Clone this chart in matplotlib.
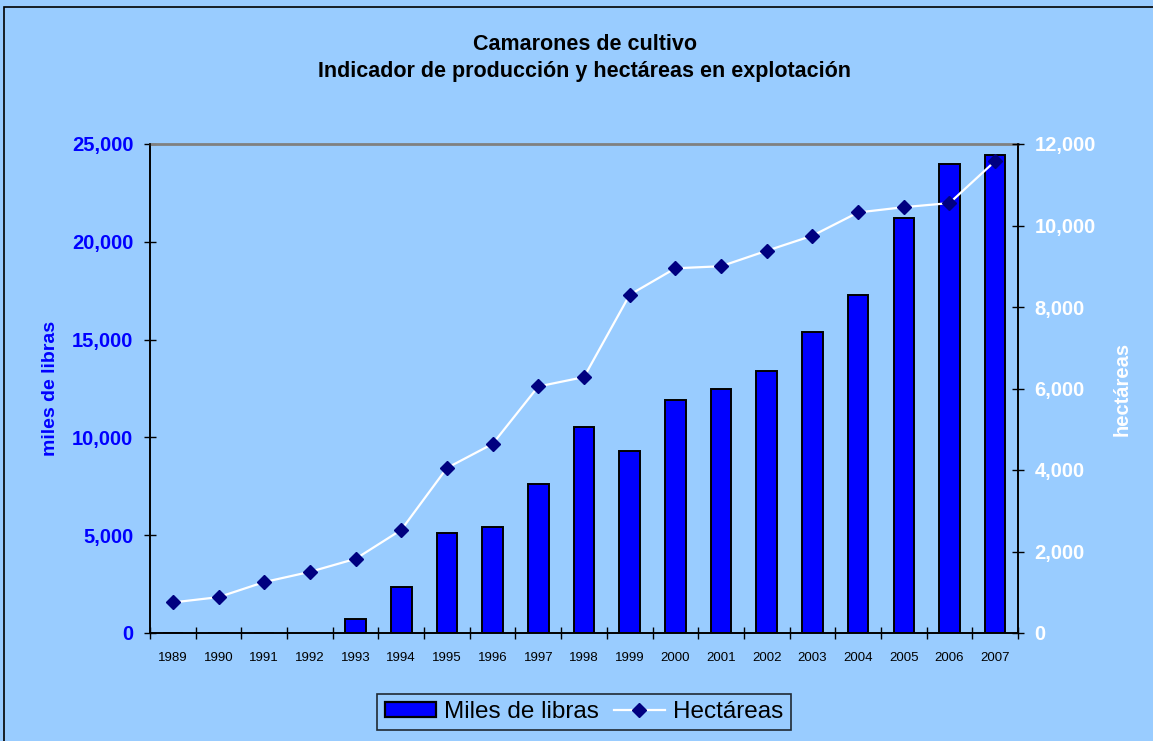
import matplotlib
matplotlib.use("Agg")
import matplotlib.pyplot as plt
from matplotlib.patches import Rectangle, Patch
from matplotlib.lines import Line2D
from matplotlib.ticker import FuncFormatter, MultipleLocator
import numpy as np

plt.rcParams['font.family'] = ['Liberation Sans', 'DejaVu Sans']

years = [1989, 1990, 1991, 1992, 1993, 1994, 1995, 1996, 1997, 1998,
         1999, 2000, 2001, 2002, 2003, 2004, 2005, 2006, 2007]
# miles de libras (bars, left axis)
libras = [0, 0, 0, 0, 700, 2350, 5100, 5400, 7600, 10550,
          9300, 11900, 12500, 13400, 15400, 17300, 21200, 24000, 24450]
# hectareas en explotacion (line, right axis)
hectareas = [750, 880, 1250, 1500, 1820, 2530, 4050, 4640, 6050, 6280,
             8300, 8950, 9000, 9380, 9750, 10320, 10450, 10550, 11580]

bg = '#99CCFF'
W, H = 1153, 741
fig = plt.figure(figsize=(W / 100, H / 100), dpi=100, facecolor=bg)

# outer chart frame
fig.patches.append(Rectangle((4 / W, -0.01), 1.2, (H - 7) / H + 0.01,
                             transform=fig.transFigure, fill=False,
                             edgecolor='black', linewidth=1.2))

ax = fig.add_axes([150 / W, (H - 633) / H, (1018 - 150) / W, (633 - 144) / H])
ax.set_facecolor(bg)
x = np.arange(len(years))

ax.bar(x, libras, width=0.45, color='#0000FF', edgecolor='black',
       linewidth=1.4, zorder=2)
ax.set_xlim(-0.5, len(years) - 0.5)
ax.set_ylim(0, 25000)
ax.yaxis.set_major_locator(MultipleLocator(5000))
thousands = FuncFormatter(lambda v, p: f'{int(v):,}')
ax.yaxis.set_major_formatter(thousands)
ax.tick_params(axis='y', direction='inout', length=8, width=1,
               labelsize=14.5, labelcolor='#0000FF', pad=8)
for lab in ax.get_yticklabels():
    lab.set_fontweight('bold')
ax.set_xticks(x)
ax.set_xticklabels([str(y) for y in years], fontsize=9.5)
ax.set_xticks(np.arange(len(years) + 1) - 0.5, minor=True)
ax.tick_params(axis='x', which='major', length=0, pad=14)
ax.tick_params(axis='x', which='minor', direction='inout', length=8, width=1)
ax.set_ylabel('miles de libras', color='#0000FF', fontsize=14,
              fontweight='bold', labelpad=9)

for s in ['left', 'bottom', 'right']:
    ax.spines[s].set_color('black')
    ax.spines[s].set_linewidth(1.2)
ax.spines['top'].set_color('#808080')
ax.spines['top'].set_linewidth(2)

ax2 = ax.twinx()
ax2.plot(x, hectareas, color='white', linewidth=1.6, marker='D',
         markersize=7.5, markerfacecolor='#000080',
         markeredgecolor='#000080', zorder=3)
ax2.set_ylim(0, 12000)
ax2.yaxis.set_major_locator(MultipleLocator(2000))
ax2.yaxis.set_major_formatter(thousands)
ax2.tick_params(axis='y', direction='inout', length=8, width=1,
                labelsize=14.5, labelcolor='white', pad=8)
for lab in ax2.get_yticklabels():
    lab.set_fontweight('bold')
ax2.set_ylabel('hectáreas', color='white', fontsize=14.5,
               fontweight='bold', labelpad=12)
for s in ['left', 'bottom', 'right']:
    ax2.spines[s].set_color('black')
    ax2.spines[s].set_linewidth(1.2)
ax2.spines['top'].set_visible(False)

fig.text(585 / W, 1 - 44 / H, 'Camarones de cultivo', ha='center',
         va='center', fontsize=15.5, fontweight='bold')
fig.text(585 / W, 1 - 72 / H, 'Indicador de producción y hectáreas en explotación',
         ha='center', va='center', fontsize=15.5, fontweight='bold')

handles = [Patch(facecolor='#0000FF', edgecolor='black', linewidth=1.6),
           Line2D([], [], color='white', linewidth=1.6, marker='D',
                  markersize=7.5, markerfacecolor='#000080',
                  markeredgecolor='#000080')]
leg = fig.legend(handles, ['Miles de libras', 'Hectáreas'], ncol=2,
                 loc='center', bbox_to_anchor=(584 / W, 1 - 712 / H),
                 fontsize=17.5, frameon=True, fancybox=False,
                 facecolor=bg, edgecolor='black', handlelength=2.1,
                 handleheight=0.55, handletextpad=0.35, columnspacing=0.6,
                 borderpad=0.3, borderaxespad=0)
leg.get_frame().set_linewidth(1.2)

fig.savefig('out.png', dpi=100, facecolor=bg)
